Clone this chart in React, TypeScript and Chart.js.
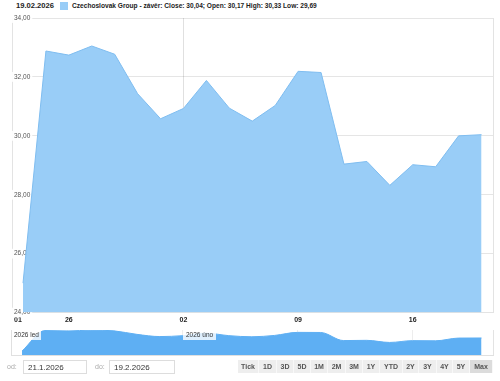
import React, { useEffect, useRef } from "react";
import { Chart, registerables } from "chart.js";

Chart.register(...registerables);

// ---- data ----
const tradingDays = [
  "22.1.", "23.1.", "26.1.", "27.1.", "28.1.", "29.1.", "30.1.",
  "2.2.", "3.2.", "4.2.", "5.2.", "6.2.", "9.2.", "10.2.", "11.2.",
  "12.2.", "13.2.", "16.2.", "17.2.", "18.2.", "19.2.",
];
const closeValues = [
  25.0, 32.88, 32.74, 33.05, 32.77, 31.43, 30.58, 30.93, 31.88, 30.94,
  30.5, 31.03, 32.19, 32.15, 29.04, 29.13, 28.32, 29.02, 28.95, 30.0, 30.04,
];
const xTickPositions = [-0.22, 2, 7, 12, 17];
const xTickLabels = ["01", "26", "02", "09", "16"];
const monthStartPositions = [7];
const yTickValues = [24, 26, 28, 30, 32, 34];
const navGridPositions = [2, 7, 12, 17];
const navLabels = ["2026 led", "2026 úno"];
const rangeButtons = ["Tick", "1D", "3D", "5D", "1M", "2M", "3M", "1Y", "YTD", "2Y", "3Y", "4Y", "5Y", "Max"];
const rangeButtonWidths = [21, 18, 17, 17, 17, 18, 17, 17, 23, 16, 18, 16, 17, 23];

const FONT = "'Liberation Sans', Arial, sans-serif";

const framePlugin = {
  id: "frameRight",
  afterDraw(chart: any) {
    const { ctx, chartArea } = chart;
    ctx.save();
    ctx.strokeStyle = "#e3e3e3";
    ctx.lineWidth = 1;
    ctx.beginPath();
    ctx.moveTo(Math.round(chartArea.right) + 0.5, chartArea.top);
    ctx.lineTo(Math.round(chartArea.right) + 0.5, chartArea.bottom);
    ctx.stroke();
    ctx.restore();
  },
};

export default function App() {
  const mainRef = useRef<HTMLCanvasElement | null>(null);
  const navRef = useRef<HTMLCanvasElement | null>(null);

  useEffect(() => {
    Chart.defaults.font.family = FONT;
    const points = closeValues.map((v, i) => ({ x: i, y: v }));
    const minX = -0.48;
    const maxX = closeValues.length - 0.5;

    const main = new Chart(mainRef.current as HTMLCanvasElement, {
      type: "line",
      data: {
        labels: tradingDays,
        datasets: [
          {
            label: "Czechoslovak Group",
            data: points,
            fill: "start",
            backgroundColor: "#99cdf7",
            borderColor: "#7fbdf0",
            borderWidth: 1,
            pointRadius: 0,
            tension: 0,
          },
        ],
      },
      options: {
        animation: false,
        responsive: false,
        maintainAspectRatio: false,
        layout: { padding: { left: 8, right: 7, top: 18, bottom: 3 } },
        plugins: { legend: { display: false }, tooltip: { enabled: false } },
        scales: {
          x: {
            type: "linear",
            min: minX,
            max: maxX,
            z: 1,
            afterBuildTicks: (scale: any) => {
              scale.ticks = xTickPositions.map((v) => ({ value: v }));
            },
            ticks: {
              autoSkip: false,
              maxRotation: 0,
              padding: 3,
              color: "#222",
              font: { size: 7, weight: "bold" },
              callback: (v: any) => {
                const i = xTickPositions.indexOf(Number(v));
                return i >= 0 ? xTickLabels[i] : "";
              },
            },
            grid: {
              drawTicks: false,
              color: (c: any) =>
                c.tick && monthStartPositions.includes(c.tick.value) ? "rgba(0,0,0,0.12)" : "rgba(0,0,0,0)",
            },
            border: { display: true, color: "#e3e3e3" },
          },
          y: {
            min: 24,
            max: 34,
            z: 1,
            afterBuildTicks: (scale: any) => {
              scale.ticks = yTickValues.map((v) => ({ value: v }));
            },
            ticks: {
              mirror: true,
              padding: 2,
              color: "#555",
              font: { size: 6.5 },
              showLabelBackdrop: true,
              backdropColor: "rgba(255,255,255,0.9)",
              backdropPadding: { top: 1, bottom: 1, left: 2, right: 2 },
              callback: (v: any) => Number(v).toFixed(2).replace(".", ","),
            },
            grid: { drawTicks: false, color: "rgba(0,0,0,0.1)" },
            border: { display: true, color: "#e3e3e3" },
          },
        },
      },
      plugins: [framePlugin],
    } as any);

    const nav = new Chart(navRef.current as HTMLCanvasElement, {
      type: "line",
      data: {
        labels: tradingDays,
        datasets: [
          {
            data: points,
            fill: "start",
            backgroundColor: "#5eaff3",
            borderColor: "#5eaff3",
            borderWidth: 1,
            pointRadius: 0,
            cubicInterpolationMode: "monotone",
          },
        ],
      },
      options: {
        animation: false,
        responsive: false,
        maintainAspectRatio: false,
        layout: { padding: { left: 11, right: 7, top: 5, bottom: 3 } },
        plugins: { legend: { display: false }, tooltip: { enabled: false } },
        scales: {
          x: {
            type: "linear",
            min: minX,
            max: maxX,
            z: 1,
            afterBuildTicks: (scale: any) => {
              scale.ticks = navGridPositions.map((v) => ({ value: v }));
            },
            ticks: { display: false },
            grid: { drawTicks: false, color: "rgba(235,235,235,0.9)" },
            border: { display: true, color: "#e0e0e0" },
          },
          y: {
            min: 23.5,
            max: 33.1,
            display: true,
            ticks: { display: false },
            grid: { display: false, drawTicks: false },
            border: { display: true, color: "#e0e0e0" },
          },
        },
      },
      plugins: [framePlugin],
    } as any);

    return () => {
      main.destroy();
      nav.destroy();
    };
  }, []);

  const small: React.CSSProperties = { position: "absolute", fontFamily: FONT, whiteSpace: "nowrap" };

  let bx = 238;
  const buttons = rangeButtons.map((b, i) => {
    const left = bx;
    bx += rangeButtonWidths[i];
    const isMax = b === "Max";
    return (
      <div
        key={b}
        style={{
          ...small,
          left,
          top: 360,
          width: rangeButtonWidths[i] - 1,
          height: 13,
          lineHeight: "13px",
          textAlign: "center",
          fontSize: 7,
          fontWeight: "bold",
          color: "#555",
          background: isMax ? "#dcdcdc" : "#eeeeee",
          borderRight: "1px solid #f8f8f8",
        }}
      >
        {b}
      </div>
    );
  });

  return (
    <div style={{ position: "fixed", left: 0, top: 0, width: 500, height: 381, background: "#fff", overflow: "hidden" }}>
      <div style={{ ...small, left: 16, top: 1, fontSize: 7.6, fontWeight: "bold", color: "#222", lineHeight: "10px" }}>
        19.02.2026
      </div>
      <div style={{ position: "absolute", left: 60, top: 2, width: 8, height: 8, background: "#99cdf7" }} />
      <div style={{ ...small, left: 72, top: 1, fontSize: 6.6, fontWeight: "bold", color: "#222", lineHeight: "10px" }}>
        Czechoslovak Group - závěr: Close: 30,04; Open: 30,17 High: 30,33 Low: 29,69
      </div>
      <canvas ref={mainRef} width={500} height={330} style={{ position: "absolute", left: 0, top: 0, width: 500, height: 330 }} />
      <canvas ref={navRef} width={500} height={33} style={{ position: "absolute", left: 0, top: 325, width: 500, height: 33 }} />
      <div style={{ ...small, left: 12, top: 330, fontSize: 6.5, color: "#333", background: "rgba(255,255,255,0.8)", padding: "1px 2px", lineHeight: "8px" }}>
        {navLabels[0]}
      </div>
      <div style={{ ...small, left: 183, top: 330, fontSize: 6.5, color: "#333", background: "rgba(255,255,255,0.8)", padding: "1px 3px", lineHeight: "8px" }}>
        {navLabels[1]}
      </div>
      <div style={{ ...small, left: 7, top: 363, fontSize: 7, color: "#aaa" }}>od:</div>
      <div style={{ ...small, left: 23, top: 360, width: 64, height: 14, border: "1px solid #ddd", fontSize: 8, color: "#333", lineHeight: "14px", paddingLeft: 4, boxSizing: "border-box" }}>
        21.1.2026
      </div>
      <div style={{ ...small, left: 95, top: 363, fontSize: 7, color: "#aaa" }}>do:</div>
      <div style={{ ...small, left: 109, top: 360, width: 66, height: 14, border: "1px solid #ddd", fontSize: 8, color: "#333", lineHeight: "14px", paddingLeft: 4, boxSizing: "border-box" }}>
        19.2.2026
      </div>
      {buttons}
    </div>
  );
}
